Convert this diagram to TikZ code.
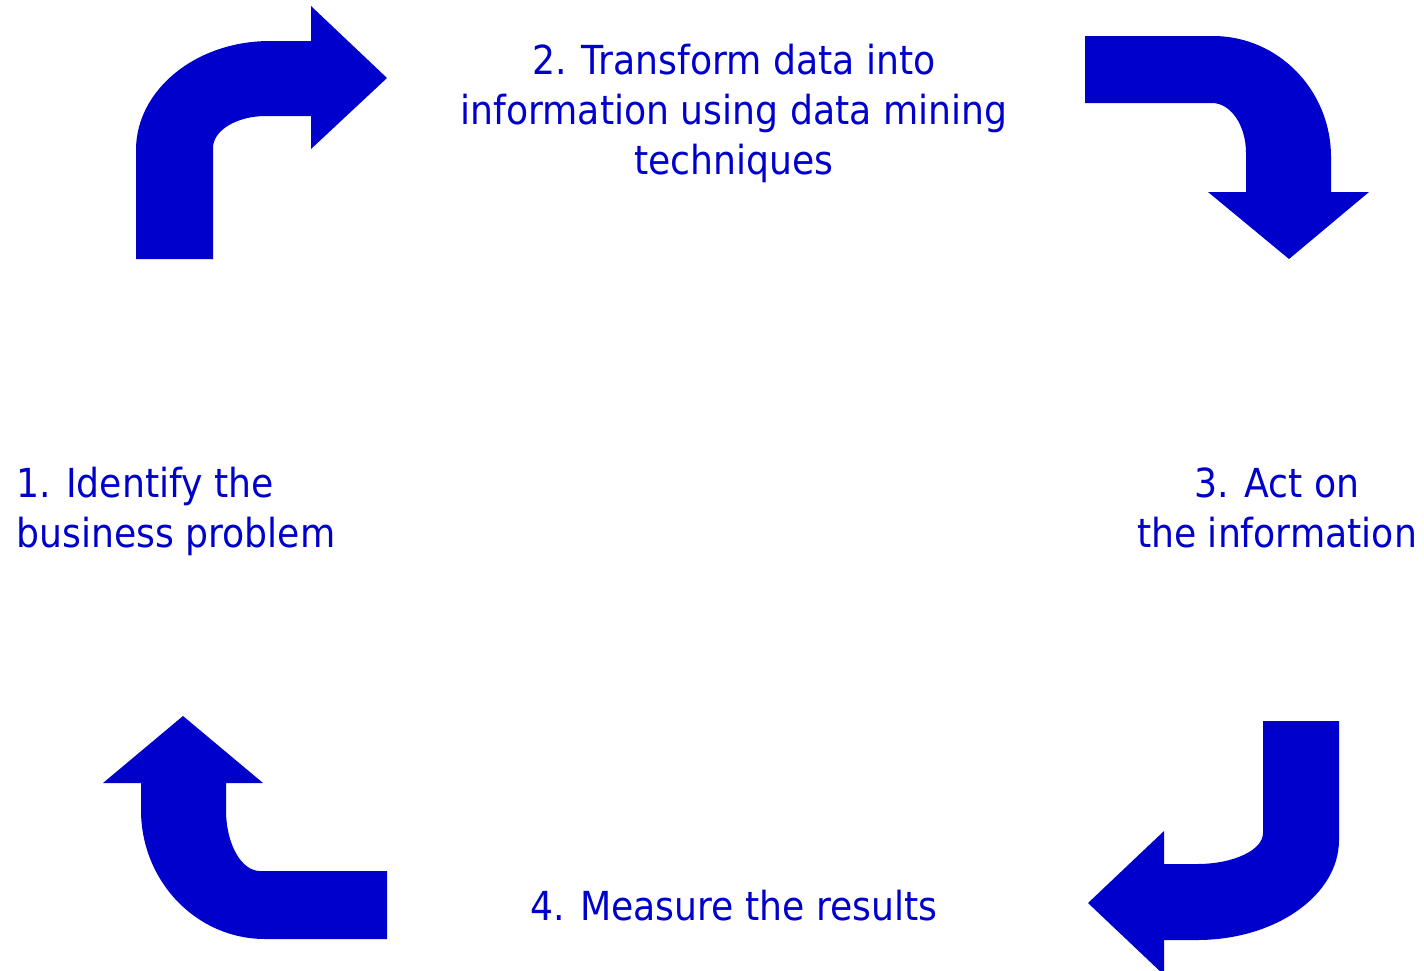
\documentclass[tikz,border=0pt]{standalone}
\usepackage{fontspec}
\setmainfont[FakeStretch=0.905]{DejaVu Sans}
\definecolor{cycleblue}{HTML}{0000CC}
\begin{document}
\begin{tikzpicture}[x=0.5pt,y=-0.5pt,
  bent/.style={fill=cycleblue,draw=none},
  steplabel/.style={text=cycleblue,inner sep=0pt,font=\fontsize{20}{25}\selectfont,align=center}]
\useasboundingbox (0,0) rectangle (1424,970);

% step labels (base anchor sits on the last line)
\node[steplabel,anchor=base] (s2) at (734,174) {2. Transform data into\\information using data mining\\techniques};
\node[steplabel,anchor=base west,align=left] (s1) at (16,547) {1. Identify the\\business problem};
\node[steplabel,anchor=base] (s3) at (1277,547) {3. Act on\\the information};
\node[steplabel,anchor=base] (s4) at (734,920) {4. Measure the results};

% arrow from step 1 to step 2
\fill[bent] (136,259) -- (136,150)
  arc[start angle=180,end angle=270,x radius=134,y radius=109]
  -- (311,41) -- (311,6) -- (387,78) -- (311,149) -- (311,116) -- (266,116)
  arc[start angle=270,end angle=180,x radius=53,y radius=32]
  -- (213,259) -- cycle;

% arrow from step 2 to step 3
\fill[bent] (1085,36) -- (1213,36)
  arc[start angle=270,end angle=360,x radius=118,y radius=121]
  -- (1331,192) -- (1369,192) -- (1289,259) -- (1208,192) -- (1246,192) -- (1246,153)
  arc[start angle=0,end angle=-90,x radius=34,y radius=50]
  -- (1085,103) -- cycle;

% arrow from step 3 to step 4
\fill[bent] (1263,721) -- (1339,721) -- (1339,840)
  arc[start angle=0,end angle=90,x radius=142,y radius=100]
  -- (1164,940) -- (1164,975) -- (1088,903) -- (1164,831) -- (1164,864) -- (1197,864)
  arc[start angle=90,end angle=0,x radius=66,y radius=31]
  -- cycle;

% arrow from step 4 to step 1
\fill[bent] (103,783) -- (183,716) -- (263,783) -- (226,783) -- (226,810)
  arc[start angle=180,end angle=90,x radius=34,y radius=61]
  -- (387,871) -- (387,939) -- (265,939)
  arc[start angle=90,end angle=180,x radius=124,y radius=129]
  -- (141,783) -- cycle;
\end{tikzpicture}
\end{document}
